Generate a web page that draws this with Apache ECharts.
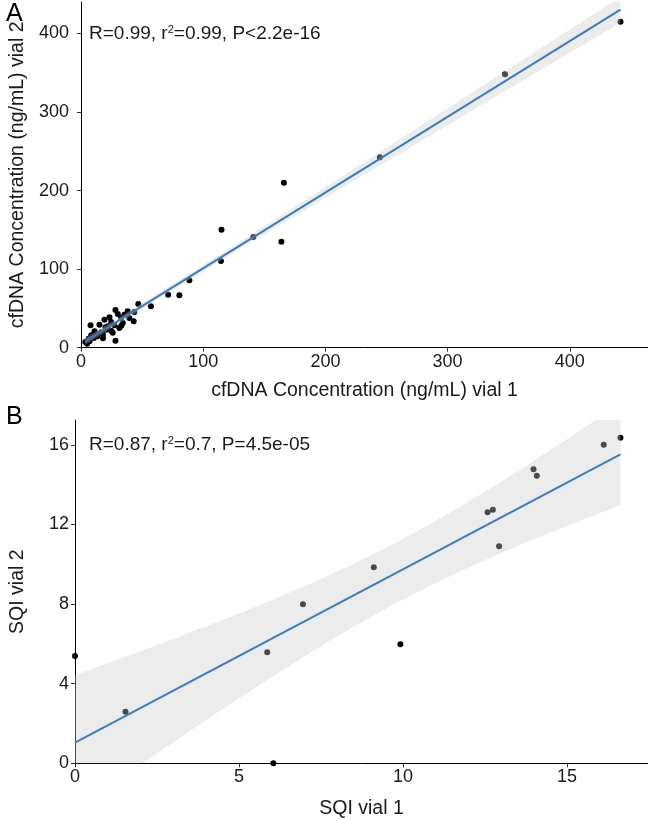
<!DOCTYPE html>
<html>
<head>
<meta charset="utf-8">
<script src="https://cdn.jsdelivr.net/npm/echarts@6/dist/echarts.min.js"></script>
<style>
  html, body { margin: 0; padding: 0; background: #fff; }
  #chart { width: 648px; height: 821px; }
</style>
</head>
<body>
<div id="chart"></div>
<script>
// panel A: cfDNA concentration, vial 1 vs vial 2
const cfdnaVial1 = [441.5, 347, 244.6, 166, 115, 141, 164, 114.5, 88.7, 80.5, 71.3,
  57.2, 46.9, 43.6, 38.2, 28.2, 35.5, 43.1, 32.8, 19.2, 24.7, 7.8, 15.1, 27.3, 31.4,
  20.6, 11.1, 16.5, 24.7, 8.4, 13.3, 6.2, 10.6, 3.5, 7, 28.2, 17.9, 22, 34.2, 39.6,
  30.1, 23.3, 12.5, 20, 26, 33, 18, 5];
const cfdnaVial2 = [415, 348, 242.5, 210, 150, 141, 135, 110.5, 86, 66.7, 67.5,
  52.7, 55.7, 45.5, 46.4, 48, 42, 33.6, 37.8, 35.7, 32.7, 28.5, 29.3, 28.5, 25.1,
  22.9, 20.9, 19.6, 21.7, 15.8, 14.5, 11.5, 12.4, 7.3, 8.2, 8.9, 16.6, 27.3, 31.5, 37.8,
  42.9, 38.7, 17.5, 26, 19, 28, 12, 5];
const cfdnaTicks = [0, 100, 200, 300, 400];

// panel B: SQI, vial 1 vs vial 2
const sqiVial1 = [0, 1.54, 5.86, 6.95, 6.05, 9.11, 9.92, 12.58, 12.74, 12.93, 13.98, 14.08, 16.12, 16.63];
const sqiVial2 = [5.39, 2.59, 5.58, 7.99, 0, 9.85, 5.98, 12.61, 12.74, 10.9, 14.77, 14.45, 16.01, 16.36];
const sqiXTicks = [0, 5, 10, 15];
const sqiYTicks = [0, 4, 8, 12, 16];

const statsA = 'R=0.99, r{sup|2}=0.99, P<2.2e-16';
const statsB = 'R=0.87, r{sup|2}=0.7, P=4.5e-05';

// t quantile (0.975) by Cornish-Fisher expansion
function tq(df) {
  const z = 1.959964;
  return z + (z ** 3 + z) / (4 * df) +
    (5 * z ** 5 + 16 * z ** 3 + 3 * z) / (96 * df * df) +
    (3 * z ** 7 + 19 * z ** 5 + 17 * z ** 3 - 15 * z) / (384 * df ** 3);
}

// lm fit with 95% confidence band, like geom_smooth(method = "lm")
function lmFit(xs, ys) {
  const n = xs.length;
  const xbar = xs.reduce((a, b) => a + b, 0) / n;
  const ybar = ys.reduce((a, b) => a + b, 0) / n;
  let sxx = 0, sxy = 0;
  xs.forEach((x, i) => { sxx += (x - xbar) ** 2; sxy += (x - xbar) * (ys[i] - ybar); });
  const b = sxy / sxx, a = ybar - b * xbar;
  let sse = 0;
  xs.forEach((x, i) => { sse += (ys[i] - a - b * x) ** 2; });
  const s = Math.sqrt(sse / (n - 2));
  const t = tq(n - 2);
  const lo = Math.min(...xs), hi = Math.max(...xs);
  const upper = [], lower = [];
  for (let k = 0; k <= 80; k++) {
    const x = lo + (hi - lo) * k / 80;
    const yhat = a + b * x;
    const w = t * s * Math.sqrt(1 / n + (x - xbar) ** 2 / sxx);
    upper.push([x, yhat + w]);
    lower.push([x, yhat - w]);
  }
  return { line: [[lo, a + b * lo], [hi, a + b * hi]], upper, lower };
}

const fitA = lmFit(cfdnaVial1, cfdnaVial2);
const fitB = lmFit(sqiVial1, sqiVial2);

const FONT = 'Liberation Sans';
const LABEL = '#1a1a1a';

function axisBase(ticks, margin) {
  return {
    type: 'value',
    splitLine: { show: false },
    axisLine: { show: true, lineStyle: { color: '#000', width: 1 } },
    axisTick: { show: true, length: 4, customValues: ticks, lineStyle: { color: '#333' } },
    axisLabel: { customValues: ticks, margin: margin, fontSize: 18, color: LABEL, fontFamily: FONT },
    nameLocation: 'middle',
    nameTextStyle: { fontSize: 19.5, color: LABEL, fontFamily: FONT }
  };
}

function bandSeries(fit, idx) {
  return {
    type: 'custom',
    xAxisIndex: idx, yAxisIndex: idx,
    clip: true, z: 3, silent: true,
    data: [0],
    renderItem: function (params, api) {
      const pts = fit.upper.map(p => api.coord(p))
        .concat(fit.lower.slice().reverse().map(p => api.coord(p)));
      return { type: 'polygon', shape: { points: pts }, style: { fill: 'rgba(203,203,203,0.365)' } };
    }
  };
}

const chart = echarts.init(document.getElementById('chart'));
chart.setOption({
  backgroundColor: '#fff',
  animation: false,
  grid: [
    { left: 77.7, right: 0, top: 2, height: 345.7 },
    { left: 68, right: 0, top: 420, height: 343.3 }
  ],
  xAxis: [
    Object.assign(axisBase(cfdnaTicks, 5), { gridIndex: 0, min: 0, max: 464,
      name: 'cfDNA Concentration (ng/mL) vial 1', nameGap: 33 }),
    Object.assign(axisBase(sqiXTicks, 5), { gridIndex: 1, min: 0, max: 17.47,
      name: 'SQI vial 1', nameGap: 35 })
  ],
  yAxis: [
    Object.assign(axisBase(cfdnaTicks, 12), { gridIndex: 0, min: 0, max: 440,
      name: 'cfDNA Concentration (ng/mL) vial 2', nameGap: 53 }),
    Object.assign(axisBase(sqiYTicks, 6), { gridIndex: 1, min: 0, max: 17.25,
      name: 'SQI vial 2', nameGap: 47 })
  ],
  graphic: [
    { type: 'text', left: 6, top: 2, style: { text: 'A', fontSize: 25, fontFamily: FONT, fill: '#000' } },
    { type: 'text', left: 6, top: 405, style: { text: 'B', fontSize: 25, fontFamily: FONT, fill: '#000' } },
    { type: 'text', left: 89, top: 24, style: { text: statsA, fontSize: 19, fontFamily: FONT, fill: LABEL,
        rich: { sup: { fontSize: 11, fontFamily: FONT, fill: LABEL, verticalAlign: 'top', padding: [0, 0, 8, 0] } } } },
    { type: 'text', left: 89, top: 435, style: { text: statsB, fontSize: 19, fontFamily: FONT, fill: LABEL,
        rich: { sup: { fontSize: 11, fontFamily: FONT, fill: LABEL, verticalAlign: 'top', padding: [0, 0, 8, 0] } } } }
  ],
  series: [
    { type: 'scatter', xAxisIndex: 0, yAxisIndex: 0, z: 2, symbolSize: 6,
      itemStyle: { color: '#000', opacity: 1 },
      data: cfdnaVial1.map((x, i) => [x, cfdnaVial2[i]]) },
    bandSeries(fitA, 0),
    { type: 'line', xAxisIndex: 0, yAxisIndex: 0, z: 4, showSymbol: false, symbol: 'none',
      lineStyle: { color: '#3d7cb6', width: 2 }, data: fitA.line },
    { type: 'scatter', xAxisIndex: 1, yAxisIndex: 1, z: 2, symbolSize: 6,
      itemStyle: { color: '#000', opacity: 1 },
      data: sqiVial1.map((x, i) => [x, sqiVial2[i]]) },
    bandSeries(fitB, 1),
    { type: 'line', xAxisIndex: 1, yAxisIndex: 1, z: 4, showSymbol: false, symbol: 'none',
      lineStyle: { color: '#3d7cb6', width: 2 }, data: fitB.line }
  ]
});
</script>
</body>
</html>
